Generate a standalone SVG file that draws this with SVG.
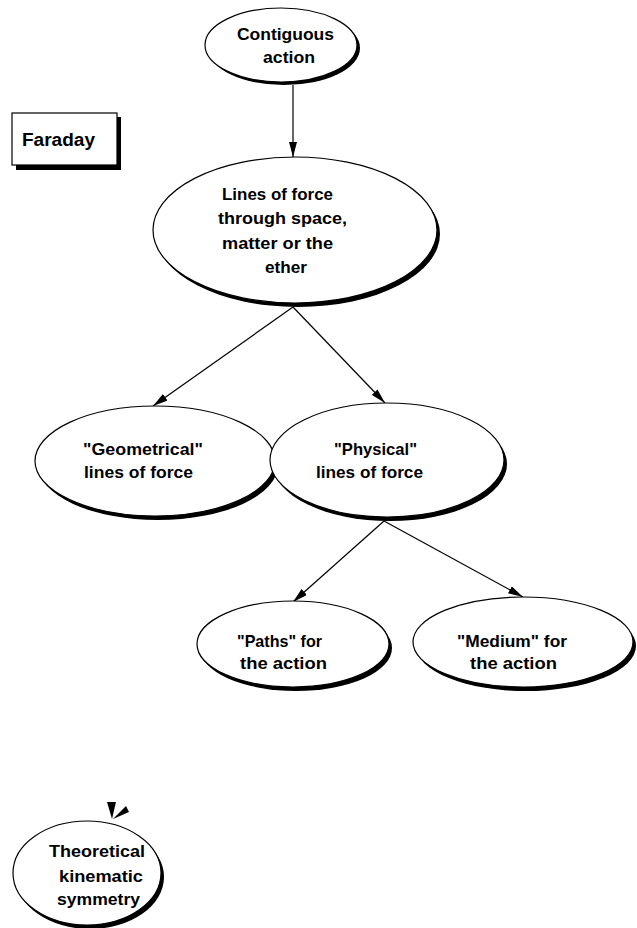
<svg xmlns="http://www.w3.org/2000/svg" width="637" height="928" viewBox="0 0 637 928">
<defs>
<style>
.sh{fill:#000;stroke:none}
.nd{fill:#fff;stroke:#000;stroke-width:1.2}
.t{font-family:"Liberation Sans",Arial,sans-serif;font-size:17px;font-weight:bold;fill:#000}
.c{fill:none;stroke:#000;stroke-width:1.2}
</style>
<marker id="ah" viewBox="0 0 15 8" refX="15" refY="4" markerWidth="15" markerHeight="8" markerUnits="userSpaceOnUse" orient="auto">
<path d="M0,0 L15,4 L0,8 Z" fill="#000"/>
</marker>
</defs>
<rect width="637" height="928" fill="#fff"/>
<g id="connectors">
<line class="c" x1="293" y1="85" x2="293" y2="157" marker-end="url(#ah)"/>
<line class="c" x1="293" y1="307" x2="153" y2="406" marker-end="url(#ah)"/>
<line class="c" x1="293" y1="307" x2="385" y2="403" marker-end="url(#ah)"/>
<line class="c" x1="384" y1="521" x2="293" y2="602" marker-end="url(#ah)"/>
<line class="c" x1="384" y1="521" x2="523" y2="597" marker-end="url(#ah)"/>
</g>
<g id="contiguous">
<ellipse class="sh" cx="284" cy="48" rx="76" ry="37"/>
<ellipse class="nd" cx="281" cy="45" rx="76" ry="37"/>
<text class="t" x="237" y="40" textLength="97" lengthAdjust="spacingAndGlyphs">Contiguous</text>
<text class="t" x="263" y="63" textLength="52" lengthAdjust="spacingAndGlyphs">action</text>
</g>
<g id="faraday">
<rect class="sh" x="16" y="117" width="105" height="53"/>
<rect class="nd" x="12" y="113" width="105" height="52"/>
<text class="t" x="22" y="146" style="font-size:18px" textLength="73" lengthAdjust="spacingAndGlyphs">Faraday</text>
</g>
<g id="lines">
<ellipse class="sh" cx="298" cy="234" rx="142" ry="73"/>
<ellipse class="nd" cx="295" cy="230" rx="142" ry="73"/>
<text class="t" x="222" y="200" textLength="111" lengthAdjust="spacingAndGlyphs">Lines of force</text>
<text class="t" x="218" y="224" textLength="129" lengthAdjust="spacingAndGlyphs">through space,</text>
<text class="t" x="222" y="249" textLength="111" lengthAdjust="spacingAndGlyphs">matter or the</text>
<text class="t" x="265" y="273" textLength="42" lengthAdjust="spacingAndGlyphs">ether</text>
</g>
<g id="geometrical">
<ellipse class="sh" cx="158" cy="465" rx="120" ry="55"/>
<ellipse class="nd" cx="155" cy="461" rx="120" ry="55"/>
<text class="t" x="83" y="455" textLength="120" lengthAdjust="spacingAndGlyphs">"Geometrical"</text>
<text class="t" x="84" y="478" textLength="109" lengthAdjust="spacingAndGlyphs">lines of force</text>
</g>
<g id="physical">
<ellipse class="sh" cx="390" cy="464" rx="117" ry="57"/>
<ellipse class="nd" cx="387" cy="460" rx="117" ry="57"/>
<text class="t" x="334" y="455" textLength="83" lengthAdjust="spacingAndGlyphs">"Physical"</text>
<text class="t" x="316" y="478" textLength="107" lengthAdjust="spacingAndGlyphs">lines of force</text>
</g>
<g id="paths">
<ellipse class="sh" cx="296" cy="648" rx="96" ry="43"/>
<ellipse class="nd" cx="293" cy="644" rx="96" ry="43"/>
<text class="t" x="237" y="647" textLength="85" lengthAdjust="spacingAndGlyphs">"Paths" for</text>
<text class="t" x="240" y="669" textLength="87" lengthAdjust="spacingAndGlyphs">the action</text>
</g>
<g id="medium">
<ellipse class="sh" cx="526" cy="646" rx="110" ry="45"/>
<ellipse class="nd" cx="523" cy="642" rx="110" ry="45"/>
<text class="t" x="457" y="647" textLength="110" lengthAdjust="spacingAndGlyphs">"Medium" for</text>
<text class="t" x="470" y="669" textLength="87" lengthAdjust="spacingAndGlyphs">the action</text>
</g>
<g id="theoretical">
<path d="M107,802 L116,802 L112,819 Z" fill="#000"/>
<path d="M113,819 L126,806 L129,812 Z" fill="#000"/>
<ellipse class="sh" cx="90" cy="877" rx="74" ry="52"/>
<ellipse class="nd" cx="87" cy="873" rx="74" ry="52"/>
<text class="t" x="49" y="857" textLength="96" lengthAdjust="spacingAndGlyphs">Theoretical</text>
<text class="t" x="59" y="882" textLength="84" lengthAdjust="spacingAndGlyphs">kinematic</text>
<text class="t" x="57" y="905" textLength="83" lengthAdjust="spacingAndGlyphs">symmetry</text>
</g>
</svg>
